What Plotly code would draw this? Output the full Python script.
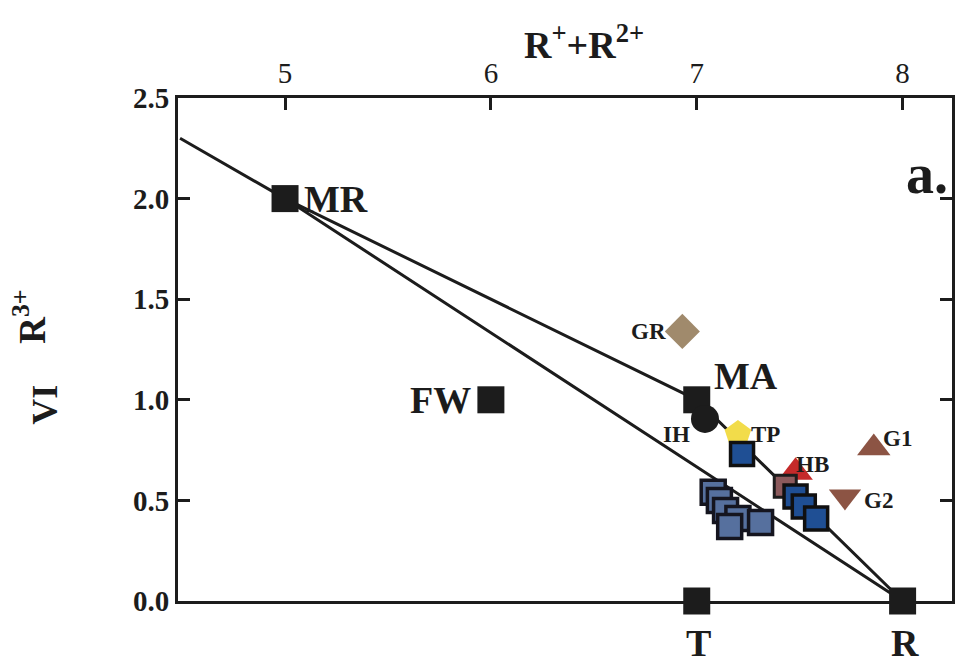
import plotly.graph_objects as go

# End-member compositions (R+ + R2+ vs VI R3+)
end_names = ["MR", "FW", "MA", "T", "R"]
end_x = [5.0, 6.0, 7.0, 7.0, 8.0]
end_y = [2.0, 1.0, 1.0, 0.0, 0.0]

# Mixing / substitution lines
line1_x = [4.49, 5.0, 8.0]
line1_y = [2.30, 2.0, 0.0]
line2_x = [5.0, 7.0, 8.0]
line2_y = [2.0, 1.0, 0.0]

# Sample groups
gr_x, gr_y = [6.93], [1.34]
ih_x, ih_y = [7.04], [0.905]
tp_x, tp_y = [7.20], [0.83]
hb_tri_x, hb_tri_y = [7.48], [0.64]
hb_sq_x, hb_sq_y = [7.43], [0.57]
g1_x, g1_y = [7.86], [0.76]
g2_x, g2_y = [7.72], [0.52]
blue_x = [7.22, 7.48, 7.52, 7.58]
blue_y = [0.73, 0.52, 0.47, 0.41]
slate_x = [7.08, 7.11, 7.14, 7.20, 7.16, 7.31]
slate_y = [0.54, 0.50, 0.45, 0.41, 0.37, 0.39]

x_ticks = [5, 6, 7, 8]
y_ticks = [0.0, 0.5, 1.0, 1.5, 2.0, 2.5]
y_ticktext = ["0.0", "0.5", "1.0", "1.5", "2.0", "2.5"]

SERIF = "Liberation Serif"
INK = "#1c1c1c"

fig = go.Figure()

for lx, ly in [(line1_x, line1_y), (line2_x, line2_y)]:
    fig.add_trace(go.Scatter(x=lx, y=ly, mode="lines",
                             line=dict(color=INK, width=3), hoverinfo="skip"))


def pts(x, y, symbol, size, fill, line_color=INK, line_width=0):
    fig.add_trace(go.Scatter(
        x=x, y=y, mode="markers", cliponaxis=False,
        marker=dict(symbol=symbol, size=size, color=fill,
                    line=dict(color=line_color, width=line_width))))


pts(gr_x, gr_y, "diamond", 27, "#a08a6c")
pts(slate_x, slate_y, "square", 24, "#56709e", "#15151f", 3.5)
pts(hb_tri_x, hb_tri_y, "triangle-up", 30, "#c42a2a")
pts(hb_sq_x, hb_sq_y, "square", 22, "#8c5a5c", INK, 3)
pts(g1_x, g1_y, "triangle-up", 29, "#8c5444")
pts(g2_x, g2_y, "triangle-down", 28, "#8c5444")
pts(tp_x, tp_y, "pentagon", 28, "#f2dc4a")
pts(end_x, end_y, "square", 27, INK)
pts(ih_x, ih_y, "circle", 28, INK)
pts(blue_x, blue_y, "square", 23, "#1f4f94", "#101010", 3.5)

# Point labels
big = dict(family=SERIF, size=38, color=INK)
small = dict(family=SERIF, size=23, color=INK)
label_specs = [
    ("MR", end_x[0], end_y[0], "left", 17, 0, big),
    ("FW", end_x[1], end_y[1], "right", -18, 0, big),
    ("MA", end_x[2], end_y[2], "left", 15, 24, big),
    ("T", end_x[3], end_y[3], "center", 2, -42, big),
    ("R", end_x[4], end_y[4], "center", 2, -42, big),
    ("GR", gr_x[0], gr_y[0], "right", -14, 0, small),
    ("IH", ih_x[0], ih_y[0], "right", -13, -16, small),
    ("TP", tp_x[0], tp_y[0], "left", 11, 0, small),
    ("HB", hb_tri_x[0], hb_tri_y[0], "left", -2, 8, small),
    ("G1", g1_x[0], g1_y[0], "left", 7, 10, small),
    ("G2", g2_x[0], g2_y[0], "left", 17, -4, small),
]
for text, x, y, anchor, dx, dy, font in label_specs:
    fig.add_annotation(x=x, y=y, text=f"<b>{text}</b>", showarrow=False,
                       xanchor=anchor, yanchor="middle", xshift=dx, yshift=dy,
                       font=font)

# Panel letter and axis titles
fig.add_annotation(xref="paper", yref="paper", x=0.968, y=0.848,
                   text="<b>a.</b>", showarrow=False, xanchor="center",
                   yanchor="middle", font=dict(family=SERIF, size=56, color=INK))
fig.add_annotation(xref="paper", yref="paper", x=0.525, y=1.0, yshift=56,
                   text="<b>R<sup>+</sup>+R<sup>2+</sup></b>", showarrow=False,
                   xanchor="center", yanchor="middle",
                   font=dict(family=SERIF, size=38, color=INK))
fig.add_annotation(xref="paper", yref="paper", x=0, xshift=-133, y=0.39,
                   text="<b>VI</b>", showarrow=False, textangle=-90,
                   xanchor="center", yanchor="middle",
                   font=dict(family=SERIF, size=36, color=INK))
fig.add_annotation(xref="paper", yref="paper", x=0, xshift=-148, y=0.565,
                   text="<b>R<sup>3+</sup></b>", showarrow=False, textangle=-90,
                   xanchor="center", yanchor="middle",
                   font=dict(family=SERIF, size=37, color=INK))

fig.update_xaxes(range=[4.48, 8.24], side="top", tickvals=x_ticks,
                 ticks="inside", ticklen=12, tickwidth=3, tickcolor=INK,
                 showline=True, linecolor=INK, linewidth=3, mirror=True,
                 showgrid=False, zeroline=False,
                 tickfont=dict(family=SERIF, size=29, color=INK))
fig.update_yaxes(range=[0, 2.5], tickvals=y_ticks, ticktext=y_ticktext,
                 ticks="inside", ticklen=12, tickwidth=3, tickcolor=INK,
                 showline=True, linecolor=INK, linewidth=3, mirror="ticks",
                 showgrid=False, zeroline=False,
                 tickfont=dict(family=SERIF, size=29, color=INK,
                               weight="bold"))

fig.update_layout(width=963, height=664, showlegend=False,
                  plot_bgcolor="white", paper_bgcolor="white",
                  margin=dict(l=178, r=8, t=98, b=63))

fig.write_html("out.html")
